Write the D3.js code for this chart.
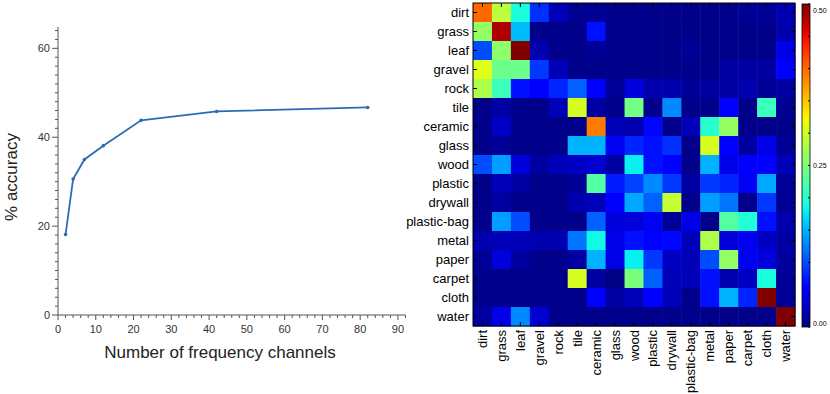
<!DOCTYPE html>
<html>
<head>
<meta charset="utf-8">
<script src="https://cdn.jsdelivr.net/npm/d3@7"></script>
<style>
  body { margin: 0; background: #fff; }
  svg { display: block; font-family: "Liberation Sans", Arial, sans-serif; }
</style>
</head>
<body>
<svg id="canvas" width="830" height="394"></svg>
<script>
// accuracy vs. number of frequency channels
const channels = [2, 4, 7, 12, 22, 42, 82]
const accuracy = [18.1, 30.6, 35.0, 38.1, 43.8, 45.8, 46.7]
const xTicks = [0, 10, 20, 30, 40, 50, 60, 70, 80, 90]
const yTicks = [0, 20, 40, 60]

// confusion matrix (rows = true class, cols = predicted)
const materials = ['dirt', 'grass', 'leaf', 'gravel', 'rock', 'tile', 'ceramic', 'glass', 'wood',
    'plastic', 'drywall', 'plastic-bag', 'metal', 'paper', 'carpet', 'cloth', 'water']
const confusion = [
    [0.40, 0.29, 0.19, 0.085, 0.025, 0.008, 0.01, 0.005, 0.005, 0.005, 0.005, 0.005, 0.005, 0.005, 0.01, 0.01, 0.02],
    [0.265, 0.48, 0.155, 0.005, 0.005, 0.005, 0.07, 0.005, 0.005, 0.005, 0.005, 0.005, 0.005, 0.005, 0.005, 0.005, 0.02],
    [0.1, 0.26, 0.5, 0.02, 0.005, 0.005, 0.01, 0.005, 0.005, 0.005, 0.005, 0.01, 0.005, 0.005, 0.005, 0.005, 0.045],
    [0.31, 0.24, 0.24, 0.09, 0.025, 0.005, 0.005, 0.005, 0.005, 0.005, 0.005, 0.005, 0.005, 0.015, 0.015, 0.015, 0.06],
    [0.28, 0.21, 0.07, 0.06, 0.08, 0.11, 0.06, 0.01, 0.04, 0.02, 0.02, 0.01, 0.015, 0.015, 0.02, 0.01, 0.015],
    [0.005, 0.015, 0.005, 0.005, 0.025, 0.305, 0.015, 0.005, 0.245, 0.005, 0.13, 0.005, 0.005, 0.06, 0.005, 0.21, 0.008],
    [0.005, 0.03, 0.005, 0.005, 0.005, 0.005, 0.39, 0.025, 0.02, 0.065, 0.005, 0.025, 0.2, 0.265, 0.005, 0.005, 0.005],
    [0.005, 0.01, 0.005, 0.005, 0.005, 0.15, 0.15, 0.05, 0.08, 0.07, 0.085, 0.005, 0.305, 0.06, 0.015, 0.045, 0.01],
    [0.1, 0.14, 0.04, 0.015, 0.025, 0.03, 0.035, 0.015, 0.18, 0.07, 0.06, 0.005, 0.15, 0.045, 0.06, 0.06, 0.025],
    [0.005, 0.025, 0.015, 0.005, 0.005, 0.01, 0.225, 0.075, 0.095, 0.13, 0.09, 0.015, 0.09, 0.08, 0.05, 0.145, 0.01],
    [0.005, 0.015, 0.005, 0.005, 0.005, 0.02, 0.025, 0.06, 0.145, 0.11, 0.295, 0.005, 0.14, 0.12, 0.005, 0.09, 0.01],
    [0.005, 0.14, 0.1, 0.005, 0.005, 0.005, 0.11, 0.04, 0.04, 0.05, 0.01, 0.045, 0.005, 0.225, 0.195, 0.07, 0.02],
    [0.02, 0.025, 0.025, 0.02, 0.02, 0.12, 0.185, 0.045, 0.07, 0.06, 0.065, 0.025, 0.28, 0.04, 0.05, 0.03, 0.015],
    [0.01, 0.04, 0.015, 0.005, 0.005, 0.015, 0.15, 0.045, 0.18, 0.09, 0.03, 0.025, 0.1, 0.265, 0.05, 0.04, 0.015],
    [0.005, 0.005, 0.005, 0.005, 0.005, 0.305, 0.015, 0.002, 0.25, 0.11, 0.025, 0.025, 0.07, 0.02, 0.03, 0.19, 0.01],
    [0.005, 0.005, 0.005, 0.005, 0.005, 0.005, 0.06, 0.015, 0.025, 0.06, 0.025, 0.005, 0.07, 0.15, 0.08, 0.5, 0.01],
    [0.015, 0.045, 0.13, 0.035, 0.005, 0.005, 0.005, 0.005, 0.005, 0.005, 0.005, 0.005, 0.005, 0.005, 0.005, 0.005, 0.5]
]
const colorTicks = [0, 0.25, 0.5]

const svg = d3.select('#canvas')

// ---------- line chart ----------
const x = d3.scaleLinear().domain([0, 92]).range([58, 405.5])
const y = d3.scaleLinear().domain([0, 64.8]).range([315, 27])
const axisColor = '#555'
const labelColor = '#333'

const left = svg.append('g')

// x axis
left.append('line')
    .attr('x1', x(0)).attr('x2', x(92))
    .attr('y1', y(0)).attr('y2', y(0))
    .attr('stroke', axisColor)
left.selectAll('.xminor')
    .data(d3.range(0, 93, 2))
    .enter().append('line')
    .attr('x1', d => x(d)).attr('x2', d => x(d))
    .attr('y1', y(0)).attr('y2', d => y(0) + (d % 10 === 0 ? 5 : 3))
    .attr('stroke', axisColor)
left.selectAll('.xlab')
    .data(xTicks)
    .enter().append('text')
    .attr('x', d => x(d)).attr('y', y(0) + 18)
    .attr('text-anchor', 'middle')
    .attr('font-size', 11)
    .attr('fill', labelColor)
    .text(d => d)

// y axis
left.append('line')
    .attr('x1', x(0)).attr('x2', x(0))
    .attr('y1', y(0)).attr('y2', y(64.8))
    .attr('stroke', axisColor)
left.selectAll('.yminor')
    .data(d3.range(0, 65, 2))
    .enter().append('line')
    .attr('x1', x(0)).attr('x2', d => x(0) - (d % 20 === 0 ? 6 : 3))
    .attr('y1', d => y(d)).attr('y2', d => y(d))
    .attr('stroke', axisColor)
left.selectAll('.ylab')
    .data(yTicks)
    .enter().append('text')
    .attr('x', x(0) - 8).attr('y', d => y(d) + 4)
    .attr('text-anchor', 'end')
    .attr('font-size', 11)
    .attr('fill', labelColor)
    .text(d => d)

left.append('text')
    .attr('x', 220).attr('y', 358)
    .attr('text-anchor', 'middle')
    .attr('font-size', 17)
    .attr('fill', '#222')
    .text('Number of frequency channels')
left.append('text')
    .attr('transform', 'translate(17,177) rotate(-90)')
    .attr('text-anchor', 'middle')
    .attr('font-size', 17)
    .attr('fill', '#222')
    .text('% accuracy')

const pts = channels.map((c, i) => [c, accuracy[i]])
left.append('path')
    .datum(pts)
    .attr('fill', 'none')
    .attr('stroke', '#2b6cb3')
    .attr('stroke-width', 1.8)
    .attr('d', d3.line().x(d => x(d[0])).y(d => y(d[1])))
left.selectAll('.pt')
    .data(pts)
    .enter().append('circle')
    .attr('cx', d => x(d[0])).attr('cy', d => y(d[1]))
    .attr('r', 1.8)
    .attr('fill', '#2b6cb3')

// ---------- confusion matrix ----------
const jetR = d3.scaleLinear().domain([0, 0.35, 0.66, 0.89, 1]).range([0, 0, 1, 1, 0.5]).clamp(true)
const jetG = d3.scaleLinear().domain([0, 0.125, 0.375, 0.64, 0.91, 1]).range([0, 0, 1, 1, 0, 0]).clamp(true)
const jetB = d3.scaleLinear().domain([0, 0.11, 0.34, 0.65, 1]).range([0.5, 1, 1, 0, 0]).clamp(true)
const jet = t => d3.rgb(jetR(t) * 255, jetG(t) * 255, jetB(t) * 255).toString()
const norm = d3.scaleLinear().domain([0, 0.5]).range([0, 1]).clamp(true)

const hx = d3.scaleBand().domain(materials).range([473, 795])
const hy = d3.scaleBand().domain(materials).range([3, 326])

const cells = []
confusion.forEach((row, i) => row.forEach((v, j) => cells.push({ r: materials[i], c: materials[j], v })))

const hm = svg.append('g')
hm.selectAll('rect')
    .data(cells)
    .enter().append('rect')
    .attr('x', d => hx(d.c))
    .attr('y', d => hy(d.r))
    .attr('width', hx.bandwidth() + 0.5)
    .attr('height', hy.bandwidth() + 0.5)
    .attr('fill', d => jet(norm(d.v)))

// inward ticks on all four sides
materials.forEach(m => {
    const cx = hx(m) + hx.bandwidth() / 2
    const cy = hy(m) + hy.bandwidth() / 2
    hm.append('line').attr('x1', cx).attr('x2', cx).attr('y1', 3).attr('y2', 7).attr('stroke', '#000')
    hm.append('line').attr('x1', cx).attr('x2', cx).attr('y1', 326).attr('y2', 322).attr('stroke', '#000')
    hm.append('line').attr('x1', 473).attr('x2', 477).attr('y1', cy).attr('y2', cy).attr('stroke', '#000')
    hm.append('line').attr('x1', 795).attr('x2', 791).attr('y1', cy).attr('y2', cy).attr('stroke', '#000')
})
hm.append('rect')
    .attr('x', 473).attr('y', 3)
    .attr('width', 322).attr('height', 323)
    .attr('fill', 'none')
    .attr('stroke', '#000')

hm.selectAll('.rowlab')
    .data(materials)
    .enter().append('text')
    .attr('x', 469)
    .attr('y', d => hy(d) + hy.bandwidth() / 2 + 4.5)
    .attr('text-anchor', 'end')
    .attr('font-size', 13)
    .attr('fill', '#000')
    .text(d => d)
hm.selectAll('.collab')
    .data(materials)
    .enter().append('text')
    .attr('transform', d => `translate(${hx(d) + hx.bandwidth() / 2 + 4.5},330) rotate(-90)`)
    .attr('text-anchor', 'end')
    .attr('font-size', 13)
    .attr('fill', '#000')
    .text(d => d)

// colorbar
const cb = d3.scaleLinear().domain([0, 0.5]).range([327, 4])
const grad = svg.append('defs').append('linearGradient')
    .attr('id', 'jetgrad')
    .attr('x1', 0).attr('y1', 1).attr('x2', 0).attr('y2', 0)
d3.range(0, 1.0001, 0.02).forEach(t => {
    grad.append('stop').attr('offset', t).attr('stop-color', jet(t))
})
svg.append('rect')
    .attr('x', 802).attr('y', 4)
    .attr('width', 8).attr('height', 323)
    .attr('fill', 'url(#jetgrad)')
    .attr('stroke', '#000')
    .attr('stroke-width', 0.8)
svg.selectAll('.cbtick')
    .data(d3.range(0, 0.5001, 0.05))
    .enter().append('line')
    .attr('x1', 810).attr('x2', 808)
    .attr('y1', d => cb(d)).attr('y2', d => cb(d))
    .attr('stroke', '#000')
svg.selectAll('.cblab')
    .data(colorTicks)
    .enter().append('text')
    .attr('x', 813)
    .attr('y', d => Math.min(323, Math.max(10, cb(d))) + 2.5)
    .attr('font-size', 7)
    .attr('fill', '#000')
    .text(d => d.toFixed(2))
</script>
</body>
</html>
